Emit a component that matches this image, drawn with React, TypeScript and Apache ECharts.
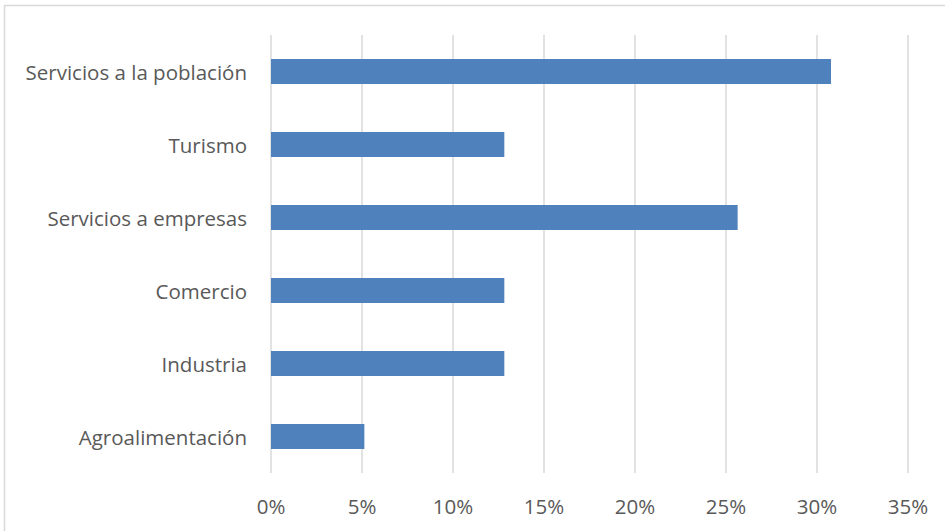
import React, { useEffect, useRef } from "react";
import * as echarts from "echarts";

const categories = [
  "Servicios a la población",
  "Turismo",
  "Servicios a empresas",
  "Comercio",
  "Industria",
  "Agroalimentación",
];
const values = [30.77, 12.82, 25.64, 12.82, 12.82, 5.13];
const xTicks = { min: 0, max: 35, interval: 5 };

export default function App() {
  const ref = useRef<HTMLDivElement>(null);
  useEffect(() => {
    document.body.style.margin = "0";
    const chart = echarts.init(ref.current!, null, { renderer: "svg" });
    const font = "Open Sans";
    chart.setOption({
      animation: false,
      backgroundColor: "#ffffff",
      graphic: [
        {
          type: "rect",
          shape: { x: 4.5, y: 5.5, width: 950, height: 540 },
          style: { fill: "none", stroke: "#d9d9d9", lineWidth: 1.5 },
          silent: true,
        },
      ],
      grid: { left: 271, right: 37, top: 35, bottom: 58, containLabel: false },
      xAxis: {
        type: "value",
        min: xTicks.min,
        max: xTicks.max,
        interval: xTicks.interval,
        axisLine: { show: false },
        axisTick: { show: false },
        splitLine: { show: true, lineStyle: { color: "#d9d9d9", width: 1.5 } },
        axisLabel: {
          formatter: "{value}%",
          color: "#595959",
          fontSize: 20.5,
          fontFamily: font,
          margin: 22,
        },
      },
      yAxis: {
        type: "category",
        data: categories,
        inverse: true,
        axisLine: { show: false },
        axisTick: { show: false },
        splitLine: { show: false },
        axisLabel: {
          color: "#595959",
          fontSize: 20.5,
          fontFamily: font,
          margin: 24,
        },
      },
      series: [
        {
          type: "bar",
          data: values,
          barWidth: 25,
          itemStyle: { color: "#4f81bd" },
        },
      ],
    });
    return () => chart.dispose();
  }, []);
  return (
    <div
      ref={ref}
      style={{ position: "fixed", left: 0, top: 0, width: 945, height: 531 }}
    />
  );
}
